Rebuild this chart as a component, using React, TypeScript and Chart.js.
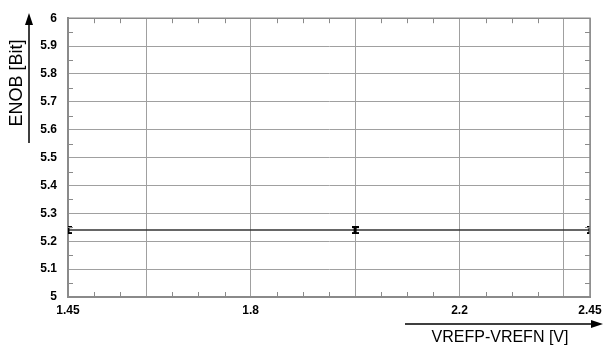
import React, { useEffect, useRef } from "react";
import { Chart, registerables } from "chart.js";

Chart.register(...registerables);

const xValues = [1.45, 2.0, 2.45];
const enobValues = [5.24, 5.24, 5.24];
const xGridValues = [1.45, 1.6, 1.8, 2.0, 2.2, 2.4, 2.45];
const xTickLabels = [1.45, 1.8, 2.2, 2.45];
const xMinorTicks = [1.5, 1.55, 1.65, 1.7, 1.75, 1.85, 1.9, 1.95, 2.05, 2.1, 2.15, 2.25, 2.3, 2.35];
const yMinorTicks = [5.05, 5.15, 5.25, 5.35, 5.45, 5.55, 5.65, 5.75, 5.85, 5.95];
const xTitle = "VREFP-VREFN [V]";
const yTitle = "ENOB [Bit]";

function makeMarker(): HTMLCanvasElement {
  const c = document.createElement("canvas");
  c.width = 7;
  c.height = 8;
  const g = c.getContext("2d")!;
  g.fillStyle = "#000";
  g.fillRect(0, 0, 7, 2);
  g.fillRect(0, 6, 7, 2);
  g.fillRect(2, 0, 3, 8);
  return c;
}

const decorPlugin = {
  id: "decor",
  afterDraw(chart: any) {
    const { ctx, chartArea, scales } = chart;
    const { left, right, top, bottom } = chartArea;
    ctx.save();
    ctx.strokeStyle = "#8a8a8a";
    ctx.lineWidth = 1.5;
    ctx.beginPath();
    ctx.moveTo(left, top);
    ctx.lineTo(right, top);
    ctx.lineTo(right, bottom);
    ctx.stroke();
    ctx.lineWidth = 1;
    ctx.strokeStyle = "#8a8a8a";
    ctx.beginPath();
    for (const v of yMinorTicks) {
      const y = Math.round(scales.y.getPixelForValue(v)) + 0.5;
      ctx.moveTo(left, y);
      ctx.lineTo(left + 5, y);
      ctx.moveTo(right - 5, y);
      ctx.lineTo(right, y);
    }
    for (const v of xMinorTicks) {
      const x = Math.round(scales.x.getPixelForValue(v)) + 0.5;
      ctx.moveTo(x, bottom);
      ctx.lineTo(x, bottom - 5);
      ctx.moveTo(x, top);
      ctx.lineTo(x, top + 5);
    }
    ctx.stroke();
    ctx.strokeStyle = "#000";
    ctx.fillStyle = "#000";
    ctx.lineWidth = 1.5;
    ctx.beginPath();
    ctx.moveTo(29, 143);
    ctx.lineTo(29, 24);
    ctx.moveTo(405, 324);
    ctx.lineTo(592, 324);
    ctx.stroke();
    ctx.beginPath();
    ctx.moveTo(29, 13);
    ctx.lineTo(25, 25);
    ctx.lineTo(33, 25);
    ctx.closePath();
    ctx.fill();
    ctx.beginPath();
    ctx.moveTo(603, 324);
    ctx.lineTo(591, 320);
    ctx.lineTo(591, 328);
    ctx.closePath();
    ctx.fill();
    ctx.font = '16px "Liberation Sans", Arial, sans-serif';
    ctx.textAlign = "center";
    ctx.textBaseline = "middle";
    ctx.fillText(xTitle, 500, 338);
    ctx.translate(17, 83);
    ctx.rotate(-Math.PI / 2);
    ctx.font = '18px "Liberation Sans", Arial, sans-serif';
    ctx.fillText(yTitle, 0, 0);
    ctx.restore();
  },
};

export default function App() {
  const ref = useRef<HTMLCanvasElement>(null);
  useEffect(() => {
    const marker = makeMarker();
    const tickFont = { family: '"Liberation Sans", Arial, sans-serif', size: 12, weight: "bold" as const };
    const chart = new Chart(ref.current!, {
      type: "scatter",
      data: {
        datasets: [
          {
            data: xValues.map((x, i) => ({ x, y: enobValues[i] })),
            showLine: true,
            borderColor: "#333",
            borderWidth: 1.5,
            pointStyle: marker as any,
            pointRadius: 4,
          },
        ],
      },
      plugins: [decorPlugin],
      options: {
        animation: false,
        responsive: true,
        maintainAspectRatio: false,
        layout: { padding: { top: 17, right: 0, left: 0, bottom: 0 } },
        plugins: { legend: { display: false }, tooltip: { enabled: false } },
        scales: {
          x: {
            type: "linear",
            min: 1.45,
            max: 2.45,
            afterBuildTicks: (s: any) => {
              s.ticks = xGridValues.map((v) => ({ value: v }));
            },
            afterFit: (s: any) => {
              s.height = 52;
              s.paddingRight = 13;
            },
            grid: { color: "#a0a0a0", lineWidth: 1, drawTicks: false },
            border: { display: true, color: "#8a8a8a", width: 2 },
            ticks: {
              padding: 6,
              autoSkip: false,
              maxRotation: 0,
              color: "#000",
              font: tickFont,
              callback: (v: any) => {
                const n = Number(v);
                return xTickLabels.some((t) => Math.abs(t - n) < 1e-6) ? String(n) : "";
              },
            },
          },
          y: {
            min: 5,
            max: 6,
            afterFit: (s: any) => {
              s.width = 68;
            },
            grid: { color: "#a0a0a0", lineWidth: 1, drawTicks: false },
            border: { display: true, color: "#8a8a8a", width: 2 },
            ticks: {
              stepSize: 0.1,
              padding: 11,
              color: "#000",
              font: tickFont,
              callback: (v: any) => String(Number(Number(v).toFixed(1))),
            },
          },
        },
      },
    });
    return () => chart.destroy();
  }, []);
  return (
    <div style={{ position: "absolute", left: 0, top: 0, width: 603, height: 349, background: "#fff" }}>
      <canvas ref={ref} />
    </div>
  );
}
